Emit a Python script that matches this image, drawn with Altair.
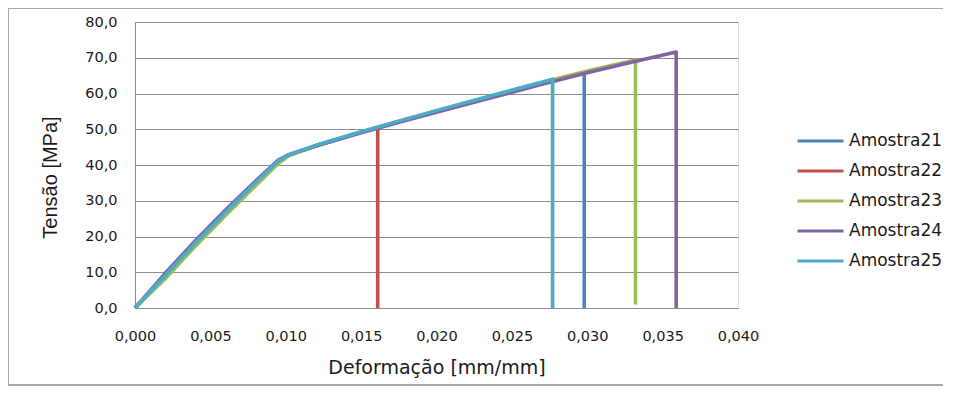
import altair as alt
import pandas as pd

series_names = ["Amostra21", "Amostra22", "Amostra23", "Amostra24", "Amostra25"]
colors = ["#4F81BD", "#C0504D", "#9BBB59", "#8064A2", "#4BACC6"]

strain_21 = [0.0, 0.002, 0.004, 0.006, 0.008, 0.0095, 0.0102, 0.012, 0.015, 0.018, 0.021, 0.024, 0.027, 0.0298, 0.0298]
stress_21 = [0.0, 9.0, 18.1, 26.7, 35.0, 41.0, 42.8, 45.4, 49.2, 52.7, 56.1, 59.5, 62.9, 65.8, 0.0]

strain_22 = [0.0, 0.002, 0.004, 0.006, 0.008, 0.0095, 0.0102, 0.012, 0.015, 0.0161, 0.0161]
stress_22 = [0.0, 9.0, 18.1, 26.7, 35.0, 41.0, 42.8, 45.4, 49.2, 50.4, 0.0]

strain_23 = [0.0, 0.002, 0.004, 0.006, 0.008, 0.0095, 0.0102, 0.012, 0.015, 0.018, 0.021, 0.024, 0.027, 0.030, 0.0332, 0.0332]
stress_23 = [0.0, 8.2, 17.3, 25.9, 34.2, 40.4, 42.6, 45.4, 49.2, 52.8, 56.3, 59.7, 63.1, 66.3, 69.4, 1.0]

strain_24 = [0.0, 0.002, 0.004, 0.006, 0.008, 0.0095, 0.0102, 0.012, 0.015, 0.018, 0.021, 0.024, 0.027, 0.030, 0.033, 0.0359, 0.0359]
stress_24 = [0.0, 9.7, 18.8, 27.4, 35.5, 41.4, 42.9, 45.3, 49.0, 52.5, 55.9, 59.2, 62.6, 65.8, 68.8, 71.6, 0.0]

strain_25 = [0.0, 0.002, 0.004, 0.006, 0.008, 0.0095, 0.0102, 0.012, 0.015, 0.018, 0.021, 0.024, 0.0277, 0.0277]
stress_25 = [0.0, 9.1, 18.2, 26.8, 35.1, 41.1, 42.9, 45.5, 49.3, 52.9, 56.4, 59.8, 64.0, 0.0]

all_strain = [strain_21, strain_22, strain_23, strain_24, strain_25]
all_stress = [stress_21, stress_22, stress_23, stress_24, stress_25]

rows = []
for name, xs, ys in zip(series_names, all_strain, all_stress):
    for i, (x, y) in enumerate(zip(xs, ys)):
        rows.append({"serie": name, "strain": x, "stress": y, "idx": i})
df = pd.DataFrame(rows)

FONT = "DejaVu Sans"
W, H = 603, 286

lines = alt.Chart(df).mark_line(strokeWidth=3.6, strokeJoin="round", strokeCap="butt").encode(
    x=alt.X("strain:Q",
            scale=alt.Scale(domain=[0, 0.04], nice=False, zero=False),
            axis=alt.Axis(values=[0, 0.005, 0.01, 0.015, 0.02, 0.025, 0.03, 0.035, 0.04],
                          labelExpr="replace(format(datum.value, '.3f'), '.', ',')",
                          title="Deformação [mm/mm]", grid=False, ticks=False,
                          domainColor="#8C8C8C", labelPadding=21, labelFlush=False,
                          labelFont=FONT, labelFontSize=14.5, labelColor="#1A1A1A",
                          titleFont=FONT, titleFontSize=19, titleFontWeight="normal",
                          titleColor="#1A1A1A", titlePadding=16)),
    y=alt.Y("stress:Q",
            scale=alt.Scale(domain=[0, 80], nice=False),
            axis=alt.Axis(values=[0, 10, 20, 30, 40, 50, 60, 70, 80],
                          labelExpr="replace(format(datum.value, '.1f'), '.', ',')",
                          title="Tensão [MPa]", grid=True, gridColor="#8C8C8C",
                          ticks=False, domainColor="#8C8C8C", labelPadding=18,
                          labelFont=FONT, labelFontSize=14.5, labelColor="#1A1A1A",
                          titleFont="Liberation Sans", titleFontSize=20,
                          titleFontWeight="normal", titleColor="#1A1A1A",
                          titlePadding=24, titleY=155)),
    color=alt.Color("serie:N",
                    scale=alt.Scale(domain=series_names, range=colors),
                    legend=alt.Legend(title=None, orient="none", legendX=661, legendY=104,
                                      symbolType="stroke", symbolSize=2116,
                                      symbolStrokeWidth=3, labelFont=FONT,
                                      labelFontSize=17, labelColor="#1A1A1A",
                                      rowPadding=0, clipHeight=30, labelOffset=4)),
    order="idx:Q",
)

frame = alt.Chart(df).mark_rect(fill=None, stroke="#A6A6A6", strokeWidth=1).encode(
    x=alt.value(-126.5), x2=alt.value(815), y=alt.value(-13.5), y2=alt.value(363)
)

chart = alt.layer(frame, lines).properties(
    width=W, height=H,
    autosize=alt.AutoSizeParams(type="none"),
    padding={"left": 127, "top": 14, "right": 205, "bottom": 78},
).configure_view(stroke=None).configure(background="white")

chart.save("out.html", embed_options={"renderer": "svg", "actions": False})
